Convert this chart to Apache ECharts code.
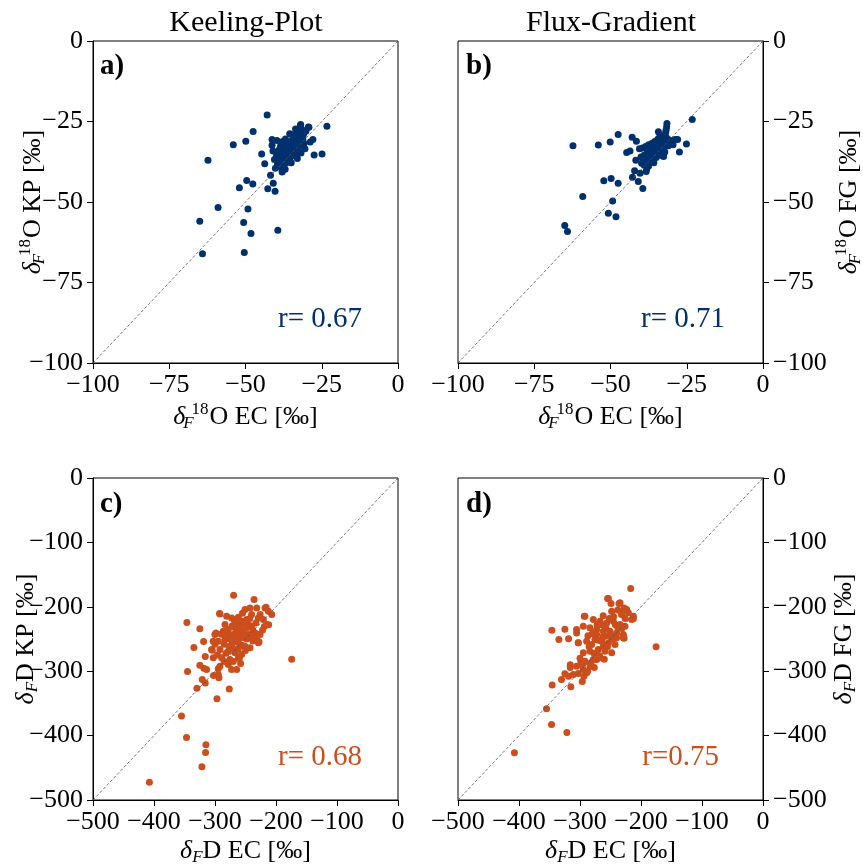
<!DOCTYPE html>
<html><head><meta charset="utf-8">
<script src="https://cdn.jsdelivr.net/npm/echarts@6/dist/echarts.min.js"></script>
<style>html,body{margin:0;padding:0;background:#fff}#c{width:863px;height:867px}</style>
</head><body><div id="c"></div>
<script>
// ---- data: [EC, method] pairs ----
const ptsA = [ // δ18O: EC vs Keeling-Plot
[-42.9,-23.0],[-23.3,-26.5],[-29.4,-26.7],[-31.9,-25.9],[-47.5,-28.1],[-41.3,-30.6],[-49.9,-31.1],[-54.0,-32.2],[-62.3,-37.0],[-44.7,-35.1],[-43.7,-38.1],[-24.9,-35.1],[-27.5,-35.4],[-27.9,-30.6],[-28.8,-31.4],[-41.8,-41.7],[-49.6,-43.3],[-52.0,-45.6],[-47.6,-44.4],[-40.9,-44.2],[-42.7,-45.9],[-40.3,-46.7],[-59.0,-51.7],[-49.2,-52.2],[-65.0,-56.0],[-50.6,-56.4],[-48.2,-59.8],[-39.4,-58.8],[-64.1,-66.1],[-50.4,-65.7],[-37.9,-40.4],
[-40.2,-39.5],[-39.5,-38.2],[-38.8,-39.0],[-38.0,-37.5],[-39.0,-36.5],[-37.5,-36.8],[-36.8,-38.0],[-37.2,-35.2],[-36.0,-36.2],[-35.5,-34.8],[-36.5,-34.0],[-38.2,-34.5],[-39.8,-35.5],[-40.5,-36.8],[-41.0,-34.2],[-38.5,-32.6],[-37.0,-33.0],[-35.0,-33.0],[-34.2,-32.0],[-35.8,-31.5],[-34.5,-34.5],[-33.5,-33.5],[-33.0,-31.0],[-32.5,-29.5],[-33.8,-30.0],[-34.8,-30.8],[-32.0,-28.2],[-31.5,-27.5],[-32.8,-27.8],[-31.0,-29.0],[-31.2,-30.6],[-30.8,-31.8],[-32.2,-32.8],[-33.2,-34.8],[-35.2,-36.0],[-36.2,-37.2],[-37.8,-31.2],[-36.9,-30.4],[-39.7,-30.9],[-41.3,-32.4],[-33.6,-27.3],[-32.0,-26.2],[-29.2,-26.8],[-30.2,-28.0],[-34.0,-29.0],[-35.5,-28.8],[-38.0,-40.7],[-37.0,-39.8],[-39.0,-33.8],[-36.2,-32.2],[-34.8,-35.6],[-33.0,-36.5],[-31.8,-34.8],[-30.5,-33.5],[-35.0,-37.8],[-36.8,-35.8],[-37.8,-33.9],[-38.8,-36.2],[-34.2,-31.2],[-32.5,-31.5]
];
const ptsB = [ // δ18O: EC vs Flux-Gradient
[-23.2,-24.4],[-62.3,-32.5],[-54.0,-32.3],[-50.1,-31.4],[-47.5,-29.0],[-42.9,-29.9],[-41.5,-31.1],[-44.7,-34.6],[-43.6,-34.2],[-41.7,-37.0],[-42.1,-40.3],[-42.8,-42.3],[-40.3,-41.1],[-40.9,-43.6],[-39.4,-45.8],[-52.2,-43.4],[-49.8,-42.7],[-47.5,-44.2],[-59.1,-48.3],[-49.3,-49.7],[-50.7,-53.5],[-48.2,-54.6],[-65.0,-57.3],[-64.1,-59.2],[-25.1,-32.0],[-27.4,-34.5],[-28.8,-30.6],[-28.0,-30.6],[-39.8,-38.0],
[-31.5,-25.6],[-31.6,-26.7],[-31.8,-27.7],[-31.9,-28.5],[-34.3,-28.2],[-33.8,-29.2],[-32.8,-29.8],[-31.5,-30.2],[-30.5,-30.8],[-33.0,-31.0],[-34.5,-30.5],[-35.5,-31.2],[-36.5,-31.8],[-37.5,-32.2],[-38.5,-32.8],[-39.5,-33.2],[-40.5,-33.5],[-36.0,-33.0],[-35.0,-32.5],[-34.0,-32.0],[-33.0,-32.8],[-32.0,-32.0],[-31.0,-32.5],[-32.5,-33.5],[-34.0,-34.0],[-35.5,-34.2],[-37.0,-34.0],[-38.0,-34.8],[-39.0,-35.5],[-40.0,-36.0],[-38.5,-36.5],[-37.0,-36.0],[-36.0,-35.5],[-35.0,-36.2],[-33.5,-35.5],[-32.6,-35.9],[-36.5,-37.2],[-38.0,-37.8],[-39.0,-38.5],[-38.1,-39.6],[-38.3,-40.5],[-37.5,-38.8],[-35.8,-37.8],[-34.8,-34.8],[-33.2,-33.0],[-30.2,-31.2],[-29.5,-32.2],[-32.2,-34.5],[-36.8,-32.8],[-34.5,-33.5]
];
const ptsC = [ // δD: EC vs Keeling-Plot
[-269.5,-182.0],[-236.0,-188.7],[-216.3,-200.6],[-212.0,-228.0],[-219.1,-230.6],[-229.5,-242.5],[-227.8,-254.4],[-174.2,-281.3],[-292.5,-210.5],[-346.1,-224.4],[-324.8,-234.2],[-334.6,-263.2],[-318.7,-253.9],[-316.0,-277.2],[-302.9,-253.4],[-304.5,-267.3],[-298.5,-240.5],[-289.7,-242.5],[-345.0,-300.4],[-324.8,-290.6],[-318.2,-295.3],[-313.8,-297.3],[-320.9,-312.8],[-316.0,-318.5],[-329.7,-326.3],[-302.3,-306.6],[-293.6,-310.3],[-294.7,-296.3],[-272.8,-297.3],[-276.6,-327.8],[-296.8,-342.8],[-260.2,-280.3],[-354.9,-369.7],[-346.7,-402.8],[-314.9,-414.2],[-315.5,-426.1],[-321.5,-448.3],[-407.5,-472.6],
[-291.9,-211.0],[-280.9,-214.6],[-272.7,-217.2],[-261.8,-216.2],[-256.3,-222.4],[-248.1,-219.8],[-250.8,-204.3],[-242.6,-201.7],[-231.6,-201.7],[-218.0,-201.7],[-228.9,-217.2],[-220.7,-219.8],[-215.2,-227.5],[-300.1,-243.0],[-286.4,-237.9],[-278.2,-235.3],[-267.2,-232.7],[-261.8,-243.0],[-253.5,-237.9],[-245.3,-243.0],[-234.4,-240.5],[-226.2,-243.0],[-231.6,-250.8],[-228.9,-256.0],[-294.6,-253.4],[-283.7,-250.8],[-272.7,-258.6],[-261.8,-256.0],[-250.8,-261.1],[-242.6,-263.7],[-305.6,-266.3],[-291.9,-266.3],[-278.2,-268.9],[-267.2,-271.5],[-256.3,-274.1],[-302.8,-279.2],[-289.1,-279.2],[-275.4,-281.8],[-261.8,-279.2],[-291.9,-292.2],[-278.2,-289.6],[-264.5,-297.3],[-294.6,-305.1],[-270.0,-243.0],[-267.2,-250.8],[-256.3,-248.2],[-275.4,-245.6],[-239.8,-230.1],[-248.1,-232.7],[-259.0,-227.5],[-283.7,-227.5],[-212.5,-206.9],[-207.0,-212.0],
[-265,-238],[-258,-235],[-252,-245],[-262,-250],[-270,-255],[-255,-260],[-248,-250],[-240,-248],[-238,-236],[-245,-228],[-252,-226],[-265,-226],[-272,-230],[-280,-242],[-285,-258],[-277,-262],[-270,-265],[-262,-266],[-250,-268],[-238,-253],[-233,-225],[-226,-212],[-240,-212],[-255,-210],[-268,-222],[-282,-272],[-296,-275],[-285,-285],[-270,-285],[-258,-288],[-300,-258],[-275,-250],[-260,-232],[-243,-218],[-222,-236]
];
const ptsD = [ // δD: EC vs Flux-Gradient
[-216.9,-171.7],[-254.7,-187.2],[-249.2,-195.0],[-236.1,-195.0],[-212.5,-218.7],[-227.8,-201.7],[-223.5,-204.3],[-293.0,-214.6],[-346.1,-236.3],[-324.8,-234.8],[-334.6,-250.8],[-318.7,-249.8],[-305.6,-240.5],[-302.9,-256.0],[-175.3,-262.2],[-227.8,-248.7],[-231.6,-233.7],[-260.2,-281.3],[-316.0,-290.1],[-316.0,-294.2],[-324.8,-304.1],[-318.7,-307.7],[-330.3,-312.8],[-315.0,-324.2],[-345.6,-321.6],[-302.9,-303.5],[-296.3,-316.0],[-293.6,-307.7],[-287.5,-299.9],[-298.5,-285.4],[-276.6,-294.2],[-272.7,-281.8],[-354.9,-358.4],[-346.7,-382.7],[-321.5,-395.1],[-407.5,-426.6],
[-253.5,-187.2],[-234.4,-193.9],[-248.1,-206.9],[-228.9,-206.9],[-220.7,-209.4],[-212.5,-214.6],[-215.2,-219.8],[-291.9,-214.6],[-278.2,-219.8],[-267.2,-222.4],[-256.3,-225.0],[-245.3,-222.4],[-234.4,-227.5],[-226.2,-230.1],[-305.6,-235.3],[-294.6,-230.1],[-283.7,-232.7],[-272.7,-235.3],[-261.8,-237.9],[-250.8,-237.9],[-239.8,-240.5],[-228.9,-243.0],[-302.8,-256.0],[-289.1,-253.4],[-275.4,-250.8],[-264.5,-253.4],[-253.5,-256.0],[-242.6,-258.6],[-228.9,-248.2],[-294.6,-271.5],[-283.7,-268.9],[-270.0,-266.3],[-259.0,-268.9],[-248.1,-271.5],[-291.9,-284.4],[-278.2,-281.8],[-267.2,-279.2],[-305.6,-292.2],[-294.6,-297.3],[-283.7,-292.2],[-311.0,-305.1],[-289.1,-302.5],[-272.7,-243.0],[-259.0,-245.6],[-245.3,-245.6],[-280.9,-258.6],[-261.8,-261.1],
[-265,-228],[-258,-232],[-252,-244],[-262,-246],[-270,-252],[-255,-262],[-248,-250],[-240,-248],[-238,-232],[-245,-215],[-252,-218],[-262,-214],[-272,-228],[-280,-242],[-285,-262],[-277,-272],[-268,-276],[-258,-258],[-242,-228],[-232,-212],[-238,-205],[-282,-287],[-296,-290],[-300,-280],[-287,-245],[-275,-240],[-226,-218]
];
const diagO = [[-100,-100],[0,0]];
const diagD = [[-500,-500],[0,0]];
const rangeO = [-100, 0], stepO = 25;
const rangeD = [-500, 0], stepD = 100;
const colTitles = ['Keeling-Plot', 'Flux-Gradient'];
const panelLabels = ['a)', 'b)', 'c)', 'd)'];
const rTexts = ['r= 0.67', 'r= 0.71', 'r= 0.68', 'r=0.75'];

// ---- style ----
const SERIF = 'Liberation Serif';
const BLUE = '#00306e', ORANGE = '#cc4e1c';
const FS = 26, FSS = 17;
const rich = {
  m: {fontFamily: SERIF, fontSize: FS, color: '#000'},
  d: {fontFamily: SERIF, fontSize: FS, fontStyle: 'italic', color: '#000'},
  sub: {fontFamily: SERIF, fontSize: FSS, fontStyle: 'italic', color: '#000', padding: [13, 0, 0, 0], width: 6},
  subD: {fontFamily: SERIF, fontSize: FSS, fontStyle: 'italic', color: '#000', padding: [13, 0, 0, 0]},
  sup: {fontFamily: SERIF, fontSize: FSS, color: '#000', padding: [0, 1, 16, 0]}
};
const nameO = t => '{d|δ}{sub|F}{sup|18}{m|O ' + t + ' [‰]}';
const nameD = t => '{d|δ}{subD|F}{m|D ' + t + ' [‰]}';
const fmt = v => (v < 0 ? '\u2212' + Math.abs(v) : String(v));

const panels = [
  {pts: ptsA, col: BLUE, left: 93, top: 41, rng: rangeO, step: stepO, diag: diagO, xn: nameO('EC'), yn: nameO('KP'), ypos: 'left', yg: 43},
  {pts: ptsB, col: BLUE, left: 458, top: 41, rng: rangeO, step: stepO, diag: diagO, xn: nameO('EC'), yn: nameO('FG'), ypos: 'right', yg: 70},
  {pts: ptsC, col: ORANGE, left: 93, top: 478, rng: rangeD, step: stepD, diag: diagD, xn: nameD('EC'), yn: nameD('KP'), ypos: 'left', yg: 52},
  {pts: ptsD, col: ORANGE, left: 458, top: 478, rng: rangeD, step: stepD, diag: diagD, xn: nameD('EC'), yn: nameD('FG'), ypos: 'right', yg: 66}
];
const W = 305, H = 322;

const grid = [], xAxis = [], yAxis = [], series = [], title = [];
const axisCommon = (p) => ({
  type: 'value', min: p.rng[0], max: p.rng[1], interval: p.step,
  axisLine: {show: true, onZero: false, lineStyle: {color: '#000', width: 1}},
  axisTick: {show: true, length: 6, lineStyle: {color: '#000', width: 1}},
  axisLabel: {fontFamily: SERIF, fontSize: FS, color: '#000', formatter: fmt},
  splitLine: {show: false},
  nameLocation: 'middle',
  nameMoveOverlap: false,
  nameTextStyle: {rich: rich}
});
panels.forEach((p, i) => {
  grid.push({left: p.left, top: p.top, width: W, height: H, show: true, borderColor: '#000', borderWidth: 1,
    backgroundColor: 'transparent', containLabel: false, outerBoundsMode: 'none'});
  const xa = axisCommon(p);
  Object.assign(xa, {gridIndex: i, position: 'bottom', name: p.xn, nameGap: i < 2 ? 38 : 36});
  xa.axisLabel.margin = 9;
  xAxis.push(xa);
  const ya = axisCommon(p);
  Object.assign(ya, {gridIndex: i, position: p.ypos, name: p.yn, nameRotate: 90, nameGap: p.yg});
  ya.axisLabel.margin = 10;
  yAxis.push(ya);
  series.push({type: 'scatter', xAxisIndex: i, yAxisIndex: i, data: p.pts, symbolSize: 7, itemStyle: {color: p.col, opacity: 1}, silent: true, z: 2});
  series.push({type: 'line', xAxisIndex: i, yAxisIndex: i, data: p.diag, showSymbol: false, silent: true, z: 3,
    lineStyle: {color: '#555', width: 0.8, type: [3, 2]}});
});
colTitles.forEach((t, j) => {
  title.push({text: t, left: j === 0 ? 246 : 611, top: 8, textAlign: 'center', padding: 0,
    textStyle: {fontFamily: SERIF, fontSize: 30, fontWeight: 'normal', color: '#000'}});
});
const lblPos = [[100, 52], [466, 52], [100, 490], [466, 490]];
panelLabels.forEach((t, i) => {
  title.push({text: t, left: lblPos[i][0], top: lblPos[i][1], padding: 0, textAlign: 'left',
    textStyle: {fontFamily: SERIF, fontSize: 29, fontWeight: 'bold', color: '#000'}});
});
const rPos = [[362, 305], [725, 305], [362, 743], [719, 743]];
rTexts.forEach((t, i) => {
  title.push({text: t, left: rPos[i][0], top: rPos[i][1], padding: 0, textAlign: 'right',
    textStyle: {fontFamily: SERIF, fontSize: 29, fontWeight: 'normal', color: i < 2 ? BLUE : ORANGE}});
});

const chart = echarts.init(document.getElementById('c'), null, {renderer: 'canvas'});
chart.setOption({animation: false, backgroundColor: '#fff', title, grid, xAxis, yAxis, series});
</script></body></html>
